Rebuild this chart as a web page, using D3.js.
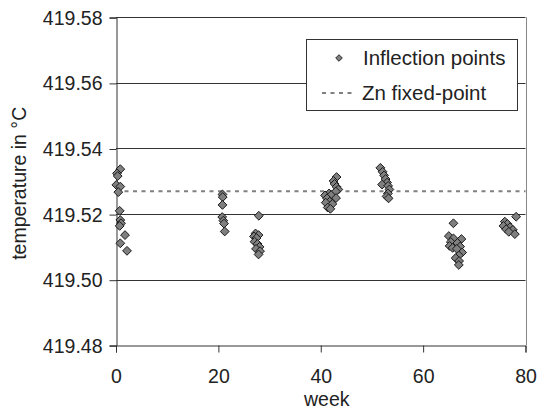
<!DOCTYPE html>
<html><head><meta charset="utf-8">
<script src="https://cdn.jsdelivr.net/npm/d3@7"></script>
<style>body{margin:0;background:#fff;}svg{display:block;font-family:"Liberation Sans",Arial,sans-serif;}</style>
</head><body><svg id="c" width="537" height="410"></svg>
<script>
// Data
const weeks = [
  0.84,0.2,0.33,0.06,0.84,0.45,0.72,0.84,0.98,0.72,1.76,0.84,2.15,
  20.8,20.85,20.8,20.75,20.97,21.1,21.24,
  27.9,27.26,27.85,26.97,27.46,27.07,27.65,28.04,27.36,28.14,27.85,
  43.09,42.5,42.7,43.09,43.44,42.94,41.63,40.84,42.02,42.99,41.24,41.76,40.98,42.27,41.37,41.88,
  51.65,52.08,52.37,52.67,52.96,51.98,53.16,53.41,53.12,52.86,53.25,
  65.92,65.02,65.92,67.48,65.41,66.7,65.17,67.23,65.76,66.58,67.62,66.97,66.35,67.03,66.97,
  78.17,75.96,76.47,75.69,77.0,76.22,77.53,76.74,77.92
];
const temps = [
  419.5337,419.5324,419.5316,419.5289,419.5284,419.5267,419.5210,419.5182,419.5172,419.5164,419.5136,419.5111,419.5088,
  419.5260,419.5252,419.5228,419.5191,419.5180,419.5171,419.5147,
  419.5195,419.5141,419.5136,419.5132,419.5127,419.5116,419.5109,419.5100,419.5094,419.5087,419.5077,
  419.5313,419.5301,419.5292,419.5283,419.5275,419.5269,419.5263,419.5257,419.5258,419.5249,419.5248,419.5238,419.5235,419.5231,419.5220,419.5216,
  419.5341,419.5329,419.5318,419.5307,419.5296,419.5290,419.5286,419.5275,419.5263,419.5254,419.5248,
  419.5172,419.5133,419.5126,419.5124,419.5115,419.5112,419.5103,419.5101,419.5097,419.5094,419.5083,419.5074,419.5066,419.5057,419.5045,
  419.5192,419.5177,419.5170,419.5164,419.5160,419.5154,419.5152,419.5146,419.5139
];
const fixedPoint = 419.527;
const xTicks = [0,20,40,60,80];
const yTicks = [419.48,419.50,419.52,419.54,419.56,419.58];
const seriesNames = ["Inflection points","Zn fixed-point"];
const xTitle = "week";
const yTitle = "temperature in °C";

const svg = d3.select("#c");
const L = 116, R = 525.5, T = 17.3, B = 345.3;
const x = d3.scaleLinear().domain([0,80]).range([L,R]);
const y = d3.scaleLinear().domain([419.48,419.58]).range([B,T]);
const fs = 19.5;

// gridlines
svg.append("g").selectAll("line").data(yTicks.slice(1)).join("line")
  .attr("x1",L).attr("x2",R)
  .attr("y1",d=>Math.round(y(d))+0.5).attr("y2",d=>Math.round(y(d))+0.5)
  .attr("stroke","#333").attr("stroke-width",1);
// right border
svg.append("line").attr("x1",Math.round(R)+0.5).attr("x2",Math.round(R)+0.5)
  .attr("y1",y(419.58)).attr("y2",y(419.48)).attr("stroke","#888");

// axes
const yAxis = svg.append("g").attr("transform",`translate(${Math.round(L)+0.5},0)`)
  .call(d3.axisLeft(y).tickValues(yTicks).tickFormat(d3.format(".2f")).tickSize(7).tickPadding(7));
const xAxis = svg.append("g").attr("transform",`translate(0,${Math.round(B)+0.5})`)
  .call(d3.axisBottom(x).tickValues(xTicks).tickFormat(d3.format("d")).tickSize(7).tickPadding(17));
[yAxis,xAxis].forEach(g=>{
  g.select(".domain").attr("stroke","#333");
  g.selectAll(".tick line").attr("stroke","#333");
  g.selectAll("text").attr("font-size",fs).attr("fill","#222").attr("font-family","'Liberation Sans',Arial,sans-serif");
});
yAxis.selectAll(".tick line").attr("transform","translate(0,0.5)");
yAxis.selectAll(".tick text").attr("dy","0.36em");

// fixed point dashed line
svg.append("line").attr("x1",x(0)).attr("x2",x(80))
  .attr("y1",y(fixedPoint)).attr("y2",y(fixedPoint))
  .attr("stroke","#808080").attr("stroke-width",2).attr("stroke-dasharray","4,4.5");

// diamonds
const diamond = r => `M0,${-r}L${r},0L0,${r}L${-r},0Z`;
svg.append("g").selectAll("path").data(weeks.map((w,i)=>[w,temps[i]])).join("path")
  .attr("d",diamond(4.4))
  .attr("transform",d=>`translate(${x(d[0])},${y(d[1])})`)
  .attr("fill","#7f7f7f").attr("stroke","#1a1a1a").attr("stroke-width",1);

// legend
const lg = svg.append("g");
lg.append("rect").attr("x",306.5).attr("y",39.5).attr("width",211).attr("height",71)
  .attr("fill","#fff").attr("stroke","#333");
lg.append("path").attr("d",diamond(3.3)).attr("transform","translate(339,58)")
  .attr("fill","#7f7f7f").attr("stroke","#1a1a1a").attr("stroke-width",0.9);
lg.append("line").attr("x1",322).attr("x2",354).attr("y1",93).attr("y2",93)
  .attr("stroke","#808080").attr("stroke-width",2).attr("stroke-dasharray","4,4.5");
lg.append("text").attr("x",363).attr("y",64.5).attr("font-size",20.5).attr("fill","#222").text(seriesNames[0]);
lg.append("text").attr("x",362).attr("y",100).attr("font-size",20.5).attr("fill","#222").text(seriesNames[1]);

// titles
svg.append("text").attr("x",(L+R)/2 + 6).attr("y",406).attr("text-anchor","middle")
  .attr("font-size",fs).attr("fill","#222").text(xTitle);
svg.append("text").attr("transform",`translate(26,${(T+B)/2+2}) rotate(-90)`).attr("text-anchor","middle")
  .attr("font-size",fs).attr("fill","#222").text(yTitle);
</script></body></html>
